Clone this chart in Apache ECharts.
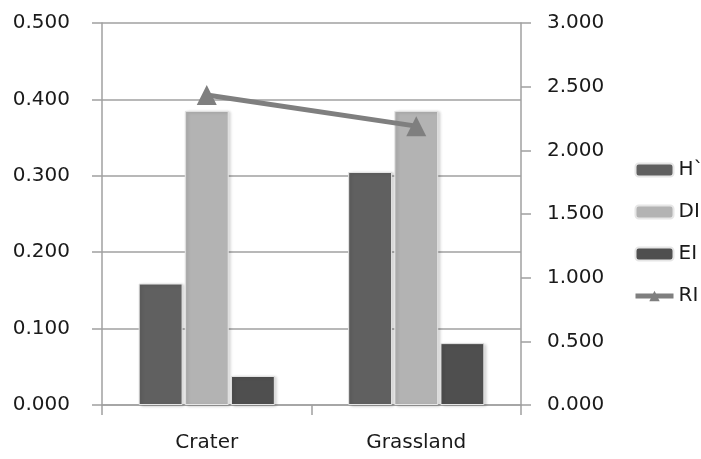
<!DOCTYPE html>
<html>
<head>
<meta charset="utf-8">
<script src="https://cdn.jsdelivr.net/npm/echarts@6/dist/echarts.min.js"></script>
<style>
  html, body { margin: 0; padding: 0; background: #fff; }
  #chart { width: 701px; height: 459px; }
</style>
</head>
<body>
<div id="chart"></div>
<script>
// Site categories and index values
const sites = ['Crater', 'Grassland'];
const hPrime = [0.159, 0.305];
const diValues = [0.385, 0.385];
const eiValues = [0.038, 0.081];
const riValues = [2.435, 2.19];
const seriesNames = ['H`', 'DI', 'EI', 'RI'];

const FONT = 'DejaVu Sans';
const axisGray = '#a0a0a0';
const labelStyle = { color: '#1a1a1a', fontFamily: FONT, fontSize: 20 };

const barStyle = (color) => ({
  color: color,
  borderColor: '#e6e6e6',
  borderWidth: 1,
  shadowColor: 'rgba(0,0,0,0.18)',
  shadowBlur: 3,
  shadowOffsetX: 2,
  shadowOffsetY: 1
});

const chart = echarts.init(document.getElementById('chart'), null, { renderer: 'canvas' });

chart.setOption({
  animation: false,
  backgroundColor: '#ffffff',
  grid: { left: 102, right: 180, top: 23, bottom: 54, containLabel: false },
  legend: {
    orient: 'vertical',
    left: 633,
    top: 160,
    padding: 0,
    itemWidth: 38,
    itemHeight: 13,
    itemGap: 22,
    textStyle: { color: '#1a1a1a', fontFamily: FONT, fontSize: 20 },
    data: [
      seriesNames[0],
      seriesNames[1],
      seriesNames[2],
      { name: seriesNames[3], lineStyle: { width: 5 } }
    ]
  },
  xAxis: {
    type: 'category',
    data: sites,
    boundaryGap: true,
    axisLine: { show: true, lineStyle: { color: axisGray, width: 1.5 } },
    axisTick: { show: true, length: 10, lineStyle: { color: axisGray, width: 1.5 } },
    axisLabel: Object.assign({ margin: 28 }, labelStyle)
  },
  yAxis: [
    {
      type: 'value',
      min: 0,
      max: 0.5,
      interval: 0.1,
      position: 'left',
      axisLine: { show: true, lineStyle: { color: axisGray, width: 1.5 } },
      axisTick: { show: true, length: 10, lineStyle: { color: axisGray, width: 1.5 } },
      splitLine: { show: true, lineStyle: { color: axisGray, width: 1.5 } },
      axisLabel: Object.assign({ margin: 32, formatter: (v) => v.toFixed(3) }, labelStyle)
    },
    {
      type: 'value',
      min: 0,
      max: 3,
      interval: 0.5,
      position: 'right',
      axisLine: { show: true, lineStyle: { color: axisGray, width: 1.5 } },
      axisTick: { show: true, length: 10, lineStyle: { color: axisGray, width: 1.5 } },
      splitLine: { show: false },
      axisLabel: Object.assign({ margin: 26, formatter: (v) => v.toFixed(3) }, labelStyle)
    }
  ],
  series: [
    {
      name: seriesNames[0],
      type: 'bar',
      data: hPrime,
      barGap: '5%',
      barCategoryGap: '35%',
      itemStyle: barStyle('#606060')
    },
    {
      name: seriesNames[1],
      type: 'bar',
      data: diValues,
      itemStyle: barStyle('#b3b3b3')
    },
    {
      name: seriesNames[2],
      type: 'bar',
      data: eiValues,
      itemStyle: barStyle('#4f4f4f')
    },
    {
      name: seriesNames[3],
      type: 'line',
      yAxisIndex: 1,
      data: riValues,
      symbol: 'triangle',
      symbolSize: [20, 20],
      lineStyle: { color: '#7f7f7f', width: 5 },
      itemStyle: { color: '#7f7f7f' },
      z: 5
    }
  ]
});
</script>
</body>
</html>
